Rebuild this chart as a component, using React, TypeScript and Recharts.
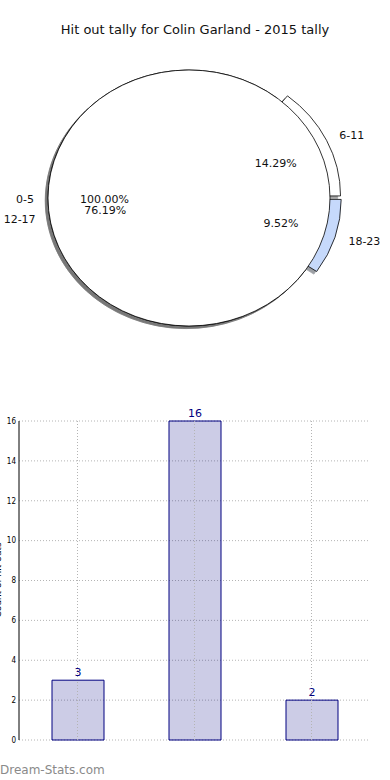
import { PieChart, Pie, BarChart, Bar, XAxis, YAxis, CartesianGrid, LabelList, ReferenceLine } from "recharts"

const title = "Hit out tally for Colin Garland - 2015 tally"
const periods = ["0-5", "6-11", "12-17", "18-23"]
const hitOuts = [0, 3, 16, 2]
const countTicks = [0, 2, 4, 6, 8, 10, 12, 14, 16]

// look of each wedge
const sliceColors = ["#ffffff", "#ffffff", "#ffffff", "#c6d9fb"]
const explode = [0, 0.083, 0, 0.083]
const EXPLODE_Y = 0.45

const pieData = periods.map((name, i) => ({ name, value: hitOuts[i] }))
const barData = pieData.filter((d) => d.value > 0)

const RX = 141
const RY = 128
const RAD = Math.PI / 180
const FONT = "'DejaVu Sans', sans-serif"
const GRID = "#b4b4b4"

function wedgePath(cx: number, cy: number, a0: number, a1: number) {
  const x0 = cx + RX * Math.cos(a0 * RAD)
  const y0 = cy - RY * Math.sin(a0 * RAD)
  const x1 = cx + RX * Math.cos(a1 * RAD)
  const y1 = cy - RY * Math.sin(a1 * RAD)
  const large = Math.abs(a1 - a0) > 180 ? 1 : 0
  return `M${cx},${cy} L${x0},${y0} A${RX},${RY} 0 ${large} 0 ${x1},${y1} Z`
}

function fullPath(cx: number, cy: number) {
  return `M${cx - RX},${cy} A${RX},${RY} 0 1 0 ${cx + RX},${cy} A${RX},${RY} 0 1 0 ${cx - RX},${cy} Z`
}

function offsetOf(p: any) {
  const e = explode[p.index] || 0
  return { dx: e * RX * Math.cos(p.midAngle * RAD), dy: -e * RY * EXPLODE_Y * Math.sin(p.midAngle * RAD) }
}

function shade(hex: string) {
  const n = parseInt(hex.slice(1), 16)
  const r = Math.round(((n >> 16) & 255) * 0.3)
  const g = Math.round(((n >> 8) & 255) * 0.3)
  const b = Math.round((n & 255) * 0.3)
  return `rgb(${r},${g},${b})`
}

const renderShadow = (p: any) => {
  const c = shade(sliceColors[p.index])
  const { dx, dy } = p.value ? offsetOf(p) : { dx: 0, dy: 0 }
  const d = p.value
    ? wedgePath(p.cx + dx - 2.8, p.cy + dy + 2.6, p.startAngle, p.endAngle)
    : fullPath(p.cx - 2.8, p.cy + 2.6)
  return <path d={d} fill={c} stroke={c} strokeWidth={0.8} opacity={0.5} />
}

const renderWedge = (p: any) => {
  if (!p.value) return null
  const { dx, dy } = offsetOf(p)
  return (
    <path
      d={wedgePath(p.cx + dx, p.cy + dy, p.startAngle, p.endAngle)}
      fill={sliceColors[p.index]}
      stroke="#000"
      strokeWidth={0.8}
    />
  )
}

// the empty 0-5 slice comes out as a whole ellipse laid over the rest
const renderCover = (p: any) => {
  if (p.value) return null
  return <path d={fullPath(p.cx, p.cy)} fill={sliceColors[p.index]} stroke="#000" strokeWidth={0.8} />
}

const renderText = (p: any) => {
  const mid = p.value ? p.midAngle : 180
  const { dx, dy } = p.value ? offsetOf(p) : { dx: 0, dy: 0 }
  const cx = p.cx + dx
  const cy = p.cy + dy + 1
  const lx = cx + 1.1 * RX * Math.cos(mid * RAD)
  const ly = cy - 1.1 * RY * Math.sin(mid * RAD)
  const px = cx + 0.6 * RX * Math.cos(mid * RAD)
  const py = cy - 0.6 * RY * Math.sin(mid * RAD)
  const pct = p.value ? p.percent * 100 : 100
  return (
    <g fontFamily={FONT} fontSize={11} fill="#111">
      <text x={lx} y={ly} textAnchor={lx > p.cx ? "start" : "end"} dominantBaseline="central">
        {periods[p.index]}
      </text>
      <text x={px} y={py} textAnchor="middle" dominantBaseline="central">
        {pct.toFixed(2)}%
      </text>
    </g>
  )
}

export default function App() {
  return (
    <div style={{ position: "absolute", left: 0, top: 0, width: 390, height: 780, background: "#fff", fontFamily: FONT }}>
      <div style={{ position: "absolute", left: 0, top: 0 }}>
        <PieChart width={390} height={390} margin={{ top: 0, right: 0, bottom: 0, left: 0 }}>
          {[renderShadow, renderWedge, renderCover, renderText].map((fn, k) => (
            <Pie
              key={k}
              data={pieData}
              dataKey="value"
              nameKey="name"
              cx={189}
              cy={198}
              outerRadius={RX}
              startAngle={0}
              endAngle={360}
              fill="none"
              stroke="none"
              label={fn}
              labelLine={false}
              isAnimationActive={false}
            />
          ))}
        </PieChart>
      </div>
      <div style={{ position: "absolute", left: 0, top: 22, width: 390, textAlign: "center", fontSize: 13, lineHeight: "16px", color: "#111" }}>
        {title}
      </div>
      <div style={{ position: "absolute", left: 0, top: 390 }}>
        <BarChart width={390} height={390} data={barData} margin={{ top: 31, right: 20, bottom: 40, left: 0 }} barSize={52}>
          <CartesianGrid stroke={GRID} strokeDasharray="1 2" vertical={false} />
          <XAxis dataKey="name" height={0} tick={false} tickLine={false} axisLine={{ stroke: "#000" }} />
          <XAxis xAxisId="top" orientation="top" dataKey="name" height={0} tick={false} tickLine={false} axisLine={{ stroke: "#000" }} />
          <YAxis
            width={19}
            domain={[0, 16]}
            ticks={countTicks}
            interval={0}
            tickSize={0}
            tickMargin={3}
            tick={{ fontSize: 8, fill: "#000", fontFamily: "'DejaVu Sans Condensed', 'DejaVu Sans', sans-serif" }}
            axisLine={{ stroke: "#000" }}
            label={() => (
              <text
                x={-2.5}
                y={190}
                transform="rotate(-90, -2.5, 190)"
                textAnchor="middle"
                dominantBaseline="central"
                fontSize={9}
                fill="#000"
              >
                Count of hit outs
              </text>
            )}
          />
          <YAxis yAxisId="right" orientation="right" width={0} domain={[0, 16]} tick={false} tickLine={false} axisLine={{ stroke: "#000" }} />
          <Bar dataKey="value" fill="#000080" fillOpacity={0.2} stroke="#000080" strokeWidth={1} isAnimationActive={false}>
            <LabelList dataKey="value" position="top" offset={4} fill="#000080" fontSize={11} fontFamily={FONT} />
          </Bar>
          {barData.map((d) => (
            <ReferenceLine key={d.name} x={d.name} position="middle" stroke={GRID} strokeDasharray="1 2" />
          ))}
        </BarChart>
      </div>
      <div style={{ position: "absolute", left: 0, top: 762, fontSize: 12, lineHeight: "16px", color: "#8a8a8a" }}>
        Dream-Stats.com
      </div>
    </div>
  )
}
